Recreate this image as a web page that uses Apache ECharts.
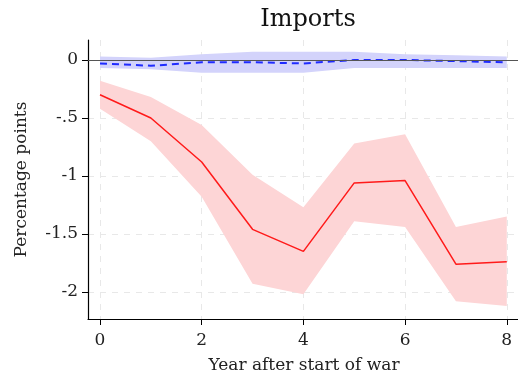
<!DOCTYPE html>
<html>
<head>
<meta charset="utf-8">
<script src="https://cdn.jsdelivr.net/npm/echarts@6/dist/echarts.min.js"></script>
<style>
  html, body { margin: 0; padding: 0; background: #fff; overflow: hidden; }
  #chart { width: 518px; height: 375px; }
</style>
</head>
<body>
<div id="chart"></div>
<script>
// Years after the start of the war
const years = [0, 1, 2, 3, 4, 5, 6, 7, 8];

// Imports response (percentage points) with confidence bands
const redEstimate = [-0.30, -0.50, -0.88, -1.46, -1.65, -1.06, -1.04, -1.76, -1.74];
const redUpper    = [-0.18, -0.32, -0.56, -0.99, -1.27, -0.72, -0.64, -1.44, -1.35];
const redLower    = [-0.42, -0.70, -1.18, -1.93, -2.02, -1.39, -1.44, -2.08, -2.12];

const blueEstimate = [-0.03, -0.05, -0.02, -0.02, -0.03, 0.00, 0.00, -0.01, -0.02];
const blueUpper    = [0.03, 0.02, 0.05, 0.07, 0.07, 0.07, 0.05, 0.04, 0.03];
const blueLower    = [-0.07, -0.08, -0.11, -0.11, -0.11, -0.07, -0.07, -0.07, -0.07];

const xTicks = [0, 2, 4, 6, 8];
const yTicks = [0, -0.5, -1, -1.5, -2];

const FONT = 'DejaVu Serif';

function pairs(ys) { return years.map((x, i) => [x, ys[i]]); }

// Confidence band: one polygon through the upper bounds and back along the lower bounds
function band(name, lo, hi, color) {
  const rows = years.map((x, i) => [x, lo[i], hi[i]]);
  return {
    name: name, type: 'custom', silent: true, z: 1,
    data: rows,
    encode: { x: 0, y: [1, 2] },
    renderItem: function (params, api) {
      if (params.dataIndex !== 0) return null;
      const top = rows.map(r => api.coord([r[0], r[2]]));
      const bottom = rows.slice().reverse().map(r => api.coord([r[0], r[1]]));
      return {
        type: 'polygon',
        shape: { points: top.concat(bottom) },
        style: { fill: color }
      };
    }
  };
}

function fmtY(v) {
  if (v === 0) return '0';
  return String(v).replace('0.', '.');
}

const chart = echarts.init(document.getElementById('chart'), null, { renderer: 'canvas' });

chart.setOption({
  animation: false,
  title: {
    text: 'Imports', left: 303, top: 3, textAlign: 'center',
    textStyle: { fontFamily: FONT, fontSize: 24, fontWeight: 'normal', color: '#111' }
  },
  grid: { left: 88, right: -2, top: 40, bottom: 56, outerBoundsMode: 'none' },
  xAxis: {
    type: 'value', min: -0.236, max: 8.26,
    name: 'Year after start of war', nameLocation: 'middle', nameGap: 38,
    nameTextStyle: { fontFamily: FONT, fontSize: 17, color: '#222' },
    axisLine: { onZero: false, lineStyle: { color: '#000', width: 1.2 } },
    axisTick: { customValues: xTicks, length: 6, lineStyle: { color: '#000' } },
    axisLabel: { customValues: xTicks, fontFamily: FONT, fontSize: 17, color: '#222', margin: 13 },
    splitLine: { show: true, lineStyle: { color: '#e8e8e8', type: [6, 6], width: 1 } }
  },
  yAxis: {
    type: 'value', min: -2.233, max: 0.172,
    name: 'Percentage points', nameLocation: 'middle', nameGap: 58,
    nameTextStyle: { fontFamily: FONT, fontSize: 17, color: '#222' },
    axisLine: { show: true, onZero: false, lineStyle: { color: '#000', width: 1.2 } },
    axisTick: { show: true, customValues: yTicks, length: 6, lineStyle: { color: '#000' } },
    axisLabel: { customValues: yTicks, fontFamily: FONT, fontSize: 17, color: '#222', margin: 10, formatter: fmtY },
    splitLine: { show: true, lineStyle: { color: '#e8e8e8', type: [6, 6], width: 1 } }
  },
  series: [
    band('red band', redLower, redUpper, '#fdd5d6'),
    band('blue band', blueLower, blueUpper, '#d3d3fb'),
    {
      name: 'zero', type: 'line', data: [], z: 2,
      markLine: {
        silent: true, symbol: 'none', label: { show: false },
        lineStyle: { color: '#555', width: 1.2, type: 'solid' },
        data: [{ yAxis: 0 }]
      }
    },
    {
      name: 'Imports (red)', type: 'line', data: pairs(redEstimate), symbol: 'none',
      lineStyle: { color: '#ff1a1a', width: 1.5 }, z: 3
    },
    {
      name: 'Imports (blue)', type: 'line', data: pairs(blueEstimate), symbol: 'none',
      lineStyle: { color: '#1f2bff', width: 2, type: [7, 5] }, z: 4
    }
  ]
});
</script>
</body>
</html>
